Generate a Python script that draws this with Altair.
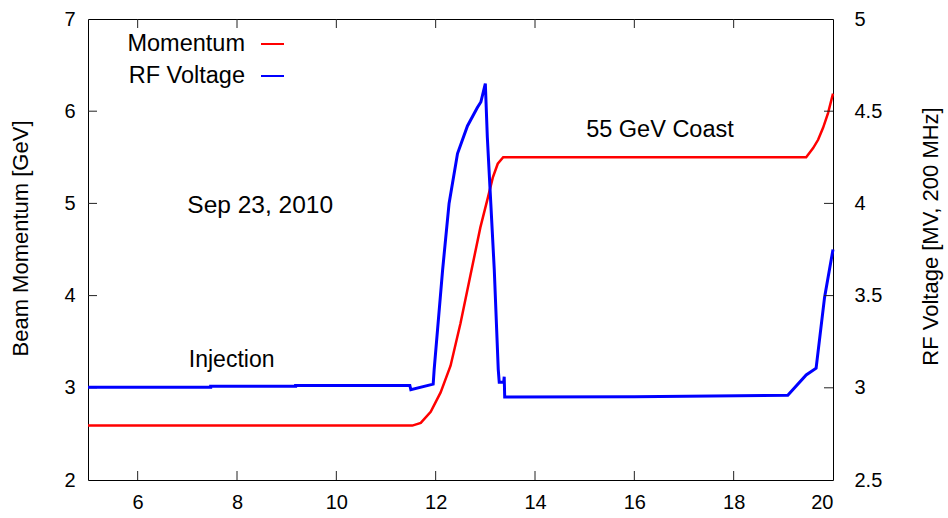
import altair as alt
import pandas as pd

# Momentum (left axis, GeV)
mom_x = [5.0, 11.5, 11.53, 11.7, 11.9, 12.1, 12.3, 12.5, 12.7, 12.9, 13.05, 13.15, 13.25, 13.36, 13.5,
         19.4, 19.46, 19.6, 19.7, 19.8, 19.9, 20.0]
mom_y = [2.59, 2.59, 2.59, 2.62, 2.74, 2.95, 3.24, 3.70, 4.22, 4.74, 5.06, 5.28, 5.43, 5.5, 5.5,
         5.5, 5.5, 5.6, 5.69, 5.82, 5.98, 6.19]

# RF voltage (right axis, MV)
rf_x = [5.0, 7.47, 7.47, 9.18, 9.18, 11.48, 11.5, 11.95, 11.97, 12.14, 12.27, 12.44, 12.64, 12.84,
        12.91, 13.0, 13.04, 13.11, 13.18, 13.26, 13.28, 13.33, 13.37, 13.38, 13.39, 16.0, 19.09,
        19.46, 19.66, 19.83, 20.0]
rf_y = [3.003, 3.003, 3.008, 3.008, 3.013, 3.013, 2.99, 3.02, 3.10, 3.64, 4.0, 4.27, 4.42, 4.52,
        4.55, 4.65, 4.36, 4.0, 3.64, 3.10, 3.03, 3.03, 3.03, 3.06, 2.95, 2.952, 2.96,
        3.07, 3.106, 3.49, 3.75]

x_ticks = [6, 8, 10, 12, 14, 16, 18, 20]
left_ticks = [2, 3, 4, 5, 6, 7]
right_ticks = [2.5, 3, 3.5, 4, 4.5, 5]

annot_text = ["Injection", "55 GeV Coast", "Sep 23, 2010"]
annot_x = [7.03, 15.03, 7.0]
annot_y = [3.30, 5.80, 4.97]
annot_size = [23, 23.5, 24.5]

legend_labels = ["Momentum", "RF Voltage"]
legend_colors = ["#ff0000", "#0000ff"]

FONT = "Liberation Sans"
W, H = 745, 461
X0, X1, YL0, YL1, YR0, YR1 = 5, 20, 2, 7, 2.5, 5
TL = 9  # inward tick length in px
dxt = TL * (X1 - X0) / W
dyl = TL * (YL1 - YL0) / H

mom_df = pd.DataFrame({"t": mom_x, "p": mom_y, "i": range(len(mom_x))})
rf_df = pd.DataFrame({"t": rf_x, "v": rf_y, "i": range(len(rf_x))})

xscale = alt.Scale(domain=[X0, X1], nice=False, zero=False)
yl_scale = alt.Scale(domain=[YL0, YL1], nice=False, zero=False)
yr_scale = alt.Scale(domain=[YR0, YR1], nice=False, zero=False)

x_axis = alt.Axis(values=x_ticks, labelFontSize=20, labelFont=FONT, labelColor="black", format="d",
                  tickSize=0, domain=False, grid=False, labelPadding=12, title=None)

red = alt.Chart(mom_df).mark_line(color="#ff0000", strokeWidth=2.5).encode(
    x=alt.X("t:Q", scale=xscale, axis=x_axis),
    y=alt.Y("p:Q", scale=yl_scale,
            axis=alt.Axis(values=left_ticks, format="d", labelFontSize=20, labelFont=FONT,
                          labelColor="black", tickSize=0, domain=False, grid=False, labelPadding=13,
                          title="Beam Momentum [GeV]", titleFont=FONT, titleFontSize=22,
                          titleFontWeight="normal", titleColor="black", titleAngle=270,
                          titleAlign="center", titleBaseline="middle", titleX=-68, titleY=219)),
    order="i:Q",
)

tick_color = "#222222"
bt_df = pd.DataFrame({"t": x_ticks[:-1]})
bottom_t = alt.Chart(bt_df).mark_rule(color=tick_color, strokeWidth=1).encode(
    x=alt.X("t:Q", scale=xscale), y=alt.datum(YL0), y2=alt.datum(YL0 + dyl))
top_t = alt.Chart(bt_df).mark_rule(color=tick_color, strokeWidth=1).encode(
    x=alt.X("t:Q", scale=xscale), y=alt.datum(YL1), y2=alt.datum(YL1 - dyl))
lt_df = pd.DataFrame({"v": left_ticks[1:-1]})
left_t = alt.Chart(lt_df).mark_rule(color=tick_color, strokeWidth=1).encode(
    y=alt.Y("v:Q", scale=yl_scale), x=alt.datum(X0), x2=alt.datum(X0 + dxt))

annots = []
for lab, tx, py, sz in zip(annot_text, annot_x, annot_y, annot_size):
    annots.append(
        alt.Chart(pd.DataFrame({"label": [lab], "t": [tx], "p": [py]})).mark_text(
            align="left", baseline="middle", font=FONT, fontSize=sz, color="black").encode(
            x=alt.X("t:Q", scale=xscale), y=alt.Y("p:Q", scale=yl_scale), text="label:N"))

leg = []
for k, (lab, col) in enumerate(zip(legend_labels, legend_colors)):
    yy = 44 + 32 * k
    d = pd.DataFrame({"label": [lab]})
    leg.append(alt.Chart(d).mark_text(align="right", baseline="middle", font=FONT, fontSize=23.5,
                                      color="black").encode(
        x=alt.value(245 - 88), y=alt.value(yy - 19), text="label:N"))
    leg.append(alt.Chart(d).mark_rule(color=col, strokeWidth=2).encode(
        x=alt.value(261 - 88), x2=alt.value(284 - 88), y=alt.value(yy - 19)))

left = alt.layer(red, bottom_t, top_t, left_t, *annots, *leg)

blue = alt.Chart(rf_df).mark_line(color="#0000ff", strokeWidth=3).encode(
    x=alt.X("t:Q", scale=xscale),
    y=alt.Y("v:Q", scale=yr_scale,
            axis=alt.Axis(orient="right", values=right_ticks, format="~g", labelFontSize=20,
                          labelFont=FONT, labelColor="black", tickSize=0, domain=False, grid=False,
                          labelPadding=21, title="RF Voltage [MV, 200 MHz]", titleFont=FONT,
                          titleFontSize=22, titleFontWeight="normal", titleColor="black",
                          titleAngle=270, titleAlign="center", titleBaseline="middle",
                          titleX=97, titleY=217)),
    order="i:Q",
)
rt_df = pd.DataFrame({"v": right_ticks[1:-1]})
right_t = alt.Chart(rt_df).mark_rule(color=tick_color, strokeWidth=1).encode(
    y=alt.Y("v:Q", scale=yr_scale), x=alt.datum(X1), x2=alt.datum(X1 - dxt))

right = alt.layer(blue, right_t)

chart = alt.layer(left, right).resolve_scale(y="independent").properties(
    width=W, height=H,
    autosize=alt.AutoSizeParams(type="none"),
    padding={"left": 88, "top": 19, "right": 115, "bottom": 38},
    background="white",
).configure_view(stroke="black", strokeWidth=1)

chart.save("out.html", embed_options={"renderer": "svg", "actions": False})
